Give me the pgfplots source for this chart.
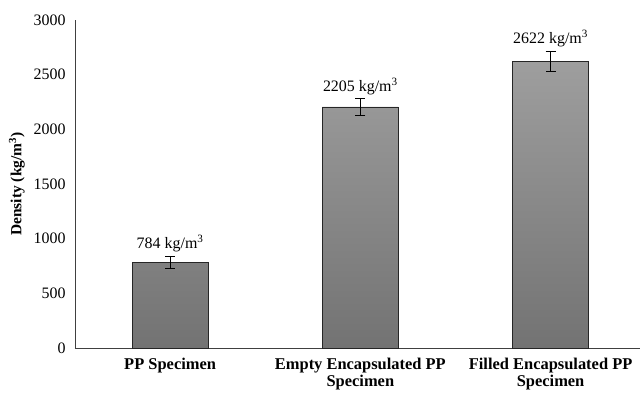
\documentclass[border=0pt]{standalone}
\usepackage{pgfplots}
\pgfplotsset{compat=1.18}
\usepackage{pgfplotstable}
\usepackage{fontspec}
\setmainfont{Liberation Serif}

\pgfplotstableread{
x  y     err
0  784   55
1  2205  75
2  2622  92
}\densitydata

\begin{document}
\begin{tikzpicture}
\path[use as bounding box] (-75bp,-46bp) rectangle (568bp,348bp);
\begin{axis}[
  scale only axis,
  width=565bp, height=328bp,
  xmin=-0.5, xmax=2.47,
  ymin=0, ymax=3000,
  ytick={0,500,...,3000},
  xtick={0,1,2},
  xticklabels={PP Specimen, Empty Encapsulated PP\\Specimen, Filled Encapsulated PP\\Specimen},
  xticklabel style={font=\fontsize{16.5}{16.5}\selectfont\bfseries, align=center, anchor=north, yshift=-7bp},
  yticklabel style={font=\fontsize{16}{18}\selectfont, xshift=-6bp},
  /pgf/number format/assume math mode=true,
  /pgf/number format/1000 sep={},
  major tick length=0pt,
  axis x line*=bottom,
  axis y line*=left,
  axis line style={black!75, line width=0.8pt, -},
  ylabel={\fontsize{15.5}{17}\selectfont\bfseries Density (kg/m\textsuperscript{3})},
  ylabel style={yshift=2bp},
  clip=false,
]
\addplot[
  ybar, bar width=76bp,
  draw=black!85, line width=0.7pt,
  top color=black!38, bottom color=black!55,
  error bars/.cd, y dir=both, y explicit,
  error bar style={black, line width=0.9pt},
  error mark options={rotate=90, mark size=5bp, line width=0.9pt},
]
table[x=x, y=y, y error=err] {\densitydata};
\addplot[
  only marks, mark=none,
  visualization depends on={\thisrow{err} \as \errval},
  nodes near coords={\pgfmathprintnumber[fixed,precision=0,1000 sep={}]{\pgfplotspointmeta} kg/m\textsuperscript{3}},
  every node near coord/.append style={
    font=\fontsize{16}{18}\selectfont, anchor=south, black,
    yshift={\errval*0.1093*1.0037+0.5pt}},
  point meta=y,
]
table[x=x, y=y] {\densitydata};
\end{axis}
\end{tikzpicture}
\end{document}
